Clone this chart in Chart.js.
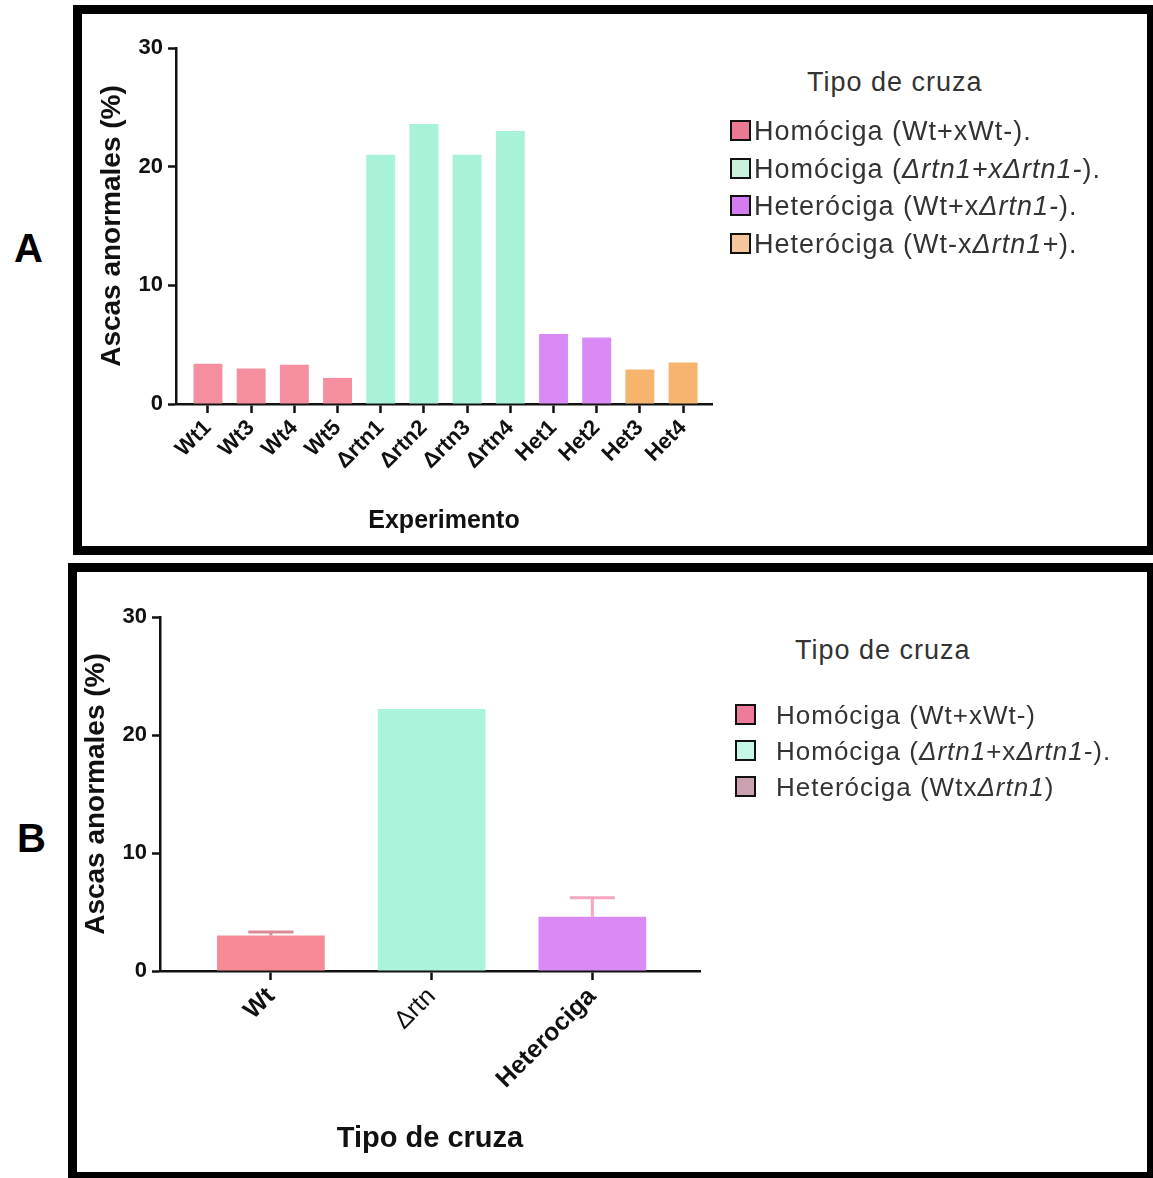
<!doctype html>
<html lang="es">
<head>
<meta charset="utf-8">
<title>Ascas anormales por tipo de cruza</title>
<script src="https://cdn.jsdelivr.net/npm/chart.js@4.4.1/dist/chart.umd.min.js"></script>
<style>
    body {
        margin: 0;
        width: 1153px;
        height: 1178px;
        position: relative;
        overflow: hidden;
        background: #fff;
        font-family: "Liberation Sans", Arial, sans-serif;
    }

    .panel {
        position: absolute;
        border: 9px solid #000;
        box-sizing: border-box;
    }

    #panelA { left: 73px; top: 5px; width: 1083px; height: 550px; }
    #panelB { left: 68px; top: 563px; width: 1088px; height: 618px; }

    .letter {
        position: absolute;
        font-weight: bold;
        font-size: 40px;
        line-height: 40px;
    }

    .box { position: absolute; }

    .legend {
        position: absolute;
        color: #333;
        white-space: nowrap;
        letter-spacing: 1px;
    }

    .legend .title { position: absolute; white-space: nowrap; font-size: 27px; line-height: 30px; }
    .legend .row { position: absolute; white-space: nowrap; line-height: 30px; }
    .legend .sw {
        display: inline-block;
        width: 17px;
        height: 17px;
        border: 2px solid #111;
        vertical-align: -1px;
    }
</style>
</head>

<body>
<div class="panel" id="panelA"></div>
<div class="panel" id="panelB"></div>
<div class="letter" style="left:14px; top:228px;">A</div>
<div class="letter" style="left:17px; top:818px;">B</div>

<div class="box" style="left:80px; top:12px; width:660px; height:532px;"><canvas id="chartA"></canvas></div>
<div class="box" style="left:76px; top:576px; width:660px; height:592px;"><canvas id="chartB"></canvas></div>

<div class="legend" id="legendA"></div>
<div class="legend" id="legendB"></div>

<script>
    // ---- panel A: per experiment ----
    var expLabels = ["Wt1", "Wt3", "Wt4", "Wt5", "\u0394rtn1", "\u0394rtn2", "\u0394rtn3", "\u0394rtn4", "Het1", "Het2", "Het3", "Het4"];
    var expValues = [3.4, 3.0, 3.3, 2.2, 21.0, 23.6, 21.0, 23.0, 5.9, 5.6, 2.9, 3.5];
    var expGroup = [0, 0, 0, 0, 1, 1, 1, 1, 2, 2, 3, 3];

    var groupColorsA = ["#f58fa0", "#a8f3d8", "#d98af4", "#f6b46f"];
    var legendSwatchA = ["#ec7994", "#c9f1dc", "#d37cf0", "#f3c79b"];
    var legendTextA = [
        "Homóciga (Wt+xWt-).",
        "Homóciga (<i>\u0394rtn1+x\u0394rtn1-</i>).",
        "Heteróciga (Wt+x<i>\u0394rtn1-</i>).",
        "Heteróciga (Wt-x<i>\u0394rtn1+</i>)."
    ];

    // ---- panel B: per cross type ----
    var crossLabels = ["Wt", "\u0394rtn", "Heterociga"];
    var crossValues = [3.0, 22.2, 4.6];
    var crossErrors = [0.3, 0, 1.6];

    var crossColors = ["#f78b95", "#a9f4da", "#d98af4"];
    var errColors = ["#d98a94", "#a9f4da", "#f2a6bf"];
    var legendSwatchB = ["#ee7b99", "#c6f6e6", "#c9a1b1"];
    var legendTextB = [
        "Homóciga (Wt+xWt-)",
        "Homóciga (<i>\u0394rtn1</i>+x<i>\u0394rtn1-</i>).",
        "Heteróciga (Wtx<i>\u0394rtn1</i>)"
    ];

    var yTicks = [0, 10, 20, 30];
    var FONT = "'Liberation Sans', Arial, sans-serif";

    function buildLegend(id, left, top, titleLeft, rowsTop, rowStep, swatches, texts, gap, size) {
        var el = document.getElementById(id);
        el.style.left = left + "px";
        el.style.top = top + "px";
        var html = '<div class="title" style="left:' + titleLeft + 'px; top:0;">Tipo de cruza</div>';
        for (var i = 0; i < texts.length; i++) {
            html += '<div class="row" style="left:0; font-size:' + size + 'px; top:' + (rowsTop + i * rowStep) + 'px;">' +
                '<span class="sw" style="background:' + swatches[i] + '; margin-right:' + gap + 'px;"></span>' +
                texts[i] + '</div>';
        }
        el.innerHTML = html;
    }

    buildLegend("legendA", 730, 67, 77, 49, 37.5, legendSwatchA, legendTextA, 3, 27);
    buildLegend("legendB", 735, 635, 60, 65, 36, legendSwatchB, legendTextB, 20, 26);

    // draws caps for the error values through the chart scales
    var errorCaps = {
        id: "errorCaps",
        afterDatasetsDraw: function(chart, args, opts) {
            if (!opts.errors) return;
            var ctx = chart.ctx;
            var meta = chart.getDatasetMeta(0);
            var y = chart.scales.y;
            ctx.save();
            meta.data.forEach(function(bar, i) {
                var e = opts.errors[i];
                if (!e) return;
                var v = chart.data.datasets[0].data[i].y;
                var top = y.getPixelForValue(v + e);
                var half = bar.width * 0.21;
                ctx.strokeStyle = opts.colors[i];
                ctx.lineWidth = 3;
                ctx.beginPath();
                ctx.moveTo(bar.x, bar.y);
                ctx.lineTo(bar.x, top);
                ctx.moveTo(bar.x - half, top);
                ctx.lineTo(bar.x + half, top);
                ctx.stroke();
            });
            ctx.restore();
        }
    };

    function makeChart(canvasId, labels, values, colors, cfg) {
        var data = values.map(function(v, i) { return { x: i, y: v }; });
        return new Chart(document.getElementById(canvasId), {
            type: "bar",
            data: {
                datasets: [{
                    data: data,
                    backgroundColor: colors,
                    borderWidth: 0,
                    barPercentage: 0.67,
                    categoryPercentage: 1
                }]
            },
            plugins: [errorCaps],
            options: {
                responsive: true,
                maintainAspectRatio: false,
                animation: false,
                layout: { padding: { top: cfg.padTop, right: cfg.padRight, left: 0, bottom: 0 } },
                plugins: {
                    legend: { display: false },
                    tooltip: { enabled: false },
                    errorCaps: { errors: cfg.errors, colors: cfg.errColors }
                },
                scales: {
                    x: {
                        type: "linear",
                        offset: false,
                        min: cfg.xMin,
                        max: cfg.xMax,
                        afterBuildTicks: function(axis) {
                            axis.ticks = labels.map(function(l, i) { return { value: i }; });
                        },
                        afterFit: function(axis) { axis.height = cfg.xHeight; },
                        border: { display: true, color: "#111", width: 2.5 },
                        grid: {
                            offset: false,
                            drawOnChartArea: false,
                            drawTicks: true,
                            tickLength: 9,
                            tickColor: "#111",
                            tickWidth: 2.5
                        },
                        ticks: {
                            autoSkip: false,
                            minRotation: 45,
                            maxRotation: 45,
                            padding: 2,
                            color: "#111",
                            font: cfg.xFont,
                            callback: function(value) { return labels[value]; }
                        },
                        title: {
                            display: true,
                            text: cfg.xTitle,
                            color: "#111",
                            font: { family: FONT, size: cfg.xTitleSize, weight: "bold" },
                            padding: { top: 0, bottom: cfg.xTitlePad }
                        }
                    },
                    y: {
                        min: 0,
                        max: 30,
                        afterBuildTicks: function(axis) {
                            axis.ticks = yTicks.map(function(v) { return { value: v }; });
                        },
                        afterFit: function(axis) { axis.width = cfg.yWidth; },
                        border: { display: true, color: "#111", width: 2.5 },
                        grid: {
                            drawOnChartArea: false,
                            drawTicks: true,
                            tickLength: 8,
                            tickColor: "#111",
                            tickWidth: 2.5
                        },
                        ticks: {
                            padding: 5,
                            color: "#111",
                            font: { family: FONT, size: 22, weight: "bold" }
                        },
                        title: {
                            display: true,
                            text: "Ascas anormales (%)",
                            color: "#111",
                            font: { family: FONT, size: 28, weight: "bold" },
                            padding: { top: cfg.yTitlePad, bottom: 0 }
                        }
                    }
                }
            }
        });
    }

    makeChart("chartA", expLabels, expValues, expGroup.map(function(g) { return groupColorsA[g]; }), {
        padTop: 36,
        padRight: 28,
        xMin: -0.74,
        xMax: 11.67,
        xHeight: 140,
        yWidth: 96,
        yTitlePad: 15,
        xTitlePad: 8,
        xTitle: "Experimento",
        xTitleSize: 25,
        xFont: { family: FONT, size: 22, weight: "bold" },
        errors: null,
        errColors: null
    });

    makeChart("chartB", crossLabels, crossValues, crossColors, {
        padTop: 41,
        padRight: 36,
        xMin: -0.69,
        xMax: 2.67,
        xHeight: 197,
        yWidth: 84,
        yTitlePad: 3,
        xTitlePad: 12,
        xTitle: "Tipo de cruza",
        xTitleSize: 29,
        xFont: function(c) {
            return { family: FONT, size: 25, weight: c.index === 1 ? "normal" : "bold" };
        },
        errors: crossErrors,
        errColors: errColors
    });
</script>
</body>
</html>
